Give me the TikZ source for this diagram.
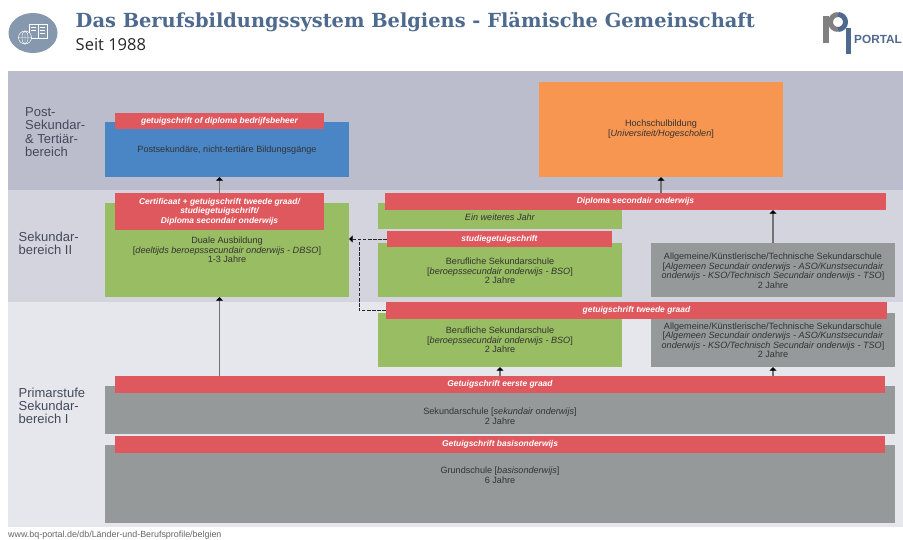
\documentclass[tikz,border=0pt]{standalone}
\usepackage{fontspec}
\setmainfont{Liberation Sans}
\newfontfamily\titlefont{DejaVu Serif}
\newfontfamily\subfont{Open Sans}
\usetikzlibrary{arrows.meta}
\definecolor{bandone}{HTML}{BBBDCD}
\definecolor{bandtwo}{HTML}{D3D4DE}
\definecolor{bandthree}{HTML}{E6E7ED}
\definecolor{boxred}{HTML}{DF585E}
\definecolor{boxgreen}{HTML}{99BD62}
\definecolor{boxgrey}{HTML}{959999}
\definecolor{boxblue}{HTML}{4A86C5}
\definecolor{boxorange}{HTML}{F79650}
\definecolor{titleblue}{HTML}{4F6A8F}
\definecolor{iconblue}{HTML}{8698AE}
\definecolor{labelgrey}{HTML}{44495A}
\tikzset{
    stage/.style={draw=none,inner sep=0pt,font=\fontsize{9.1}{9.5}\selectfont,text=black!80,align=center},
    award/.style={stage,text=white,font=\fontsize{8.45}{9.5}\selectfont\itshape\bfseries,fill=boxred},
    bandlabel/.style={inner sep=0pt,anchor=north west,align=left,text=labelgrey,font=\fontsize{13}{13.2}\selectfont},
    flow/.style={draw=black!55,line width=1.2pt,-{Triangle[width=7pt,length=3.5pt,color=black]}},
    shortcut/.style={draw=black!85,line width=0.9pt,dashed,dash pattern=on 3.5pt off 1.6pt},
}
% box from its corners in pixels: name, left, top, right, bottom, options
\newcommand{\pxbox}[6]{\node[#6,minimum width={(#4)*1pt-(#2)*1pt},minimum height={(#5)*1pt-(#3)*1pt}] (#1) at ({((#2)+(#4))/2},{((#3)+(#5))/2}) {};}
\begin{document}
\begin{tikzpicture}[x=1pt,y=-1pt]
    \useasboundingbox (0,0) rectangle (903,540);
    \fill[white] (0,0) rectangle (903,540);
    % Head
    \fill[iconblue] (33,33) ellipse (24.5 and 20);
    \draw[white,line width=0.5pt] (29,24) rectangle (38,38) (38,24) rectangle (47,38) (40,27) -- (45,27) (40,30) -- (45,30) (40,33) -- (45,33) (31,27) -- (36,27) (31,30) -- (36,30);
    \filldraw[draw=white,fill=iconblue,line width=0.5pt] (25,37.5) circle (6.5);
    \draw[white,line width=0.4pt] (18.5,37.5) -- (31.5,37.5) (25,31) -- (25,44) (25,37.5) ellipse (3 and 6.5);
    \node[inner sep=0pt,anchor=west,text=titleblue,font=\titlefont\bfseries\fontsize{19.4}{21}\selectfont] (headline) at (75.5,22.5) {Das Berufsbildungssystem Belgiens - Flämische Gemeinschaft};
    \node[inner sep=0pt,anchor=west,text=black!85,font=\subfont\fontsize{16.5}{18}\selectfont] (since) at (75.5,44.5) {Seit 1988};
    % Logo
    \fill[black!50] (823,16) rectangle (829,43);
    \draw[black!50,line width=5pt] (838,29.5) arc (90:270:7.5);
    \draw[titleblue,line width=5pt] (838,29.5) arc (90:-90:7.5);
    \fill[titleblue] (845.5,28) rectangle (851,54);
    \node[inner sep=0pt,anchor=west,text=titleblue,font=\bfseries\fontsize{11.8}{13}\selectfont] (portal) at (854,39.5) {PORTAL};
    % Bands
    \fill[bandone] (8,71) rectangle (903,190);
    \fill[bandtwo] (8,190) rectangle (903,302);
    \fill[bandthree] (8,302) rectangle (903,527);
    \node[bandlabel] (tertiary) at (25,107.5) {Post-\\Sekundar-\\\&\ Tertiär-\\bereich};
    \node[bandlabel] (upper) at (18.5,232) {Sekundar-\\bereich II};
    \node[bandlabel] (lower) at (18.5,387.5) {Primarstufe\\Sekundar-\\bereich I};
    % Boxes
    \pxbox{postsek}{105}{122.5}{349}{177}{stage,fill=boxblue}
    \pxbox{hochschule}{539}{82}{783}{177}{stage,fill=boxorange}
    \pxbox{duale}{105}{203}{349}{297}{stage,fill=boxgreen}
    \pxbox{jahr}{378}{203}{622}{229}{stage,fill=boxgreen}
    \pxbox{bsoa}{378}{243}{622}{297}{stage,fill=boxgreen}
    \pxbox{allga}{651}{243}{895}{297}{stage,fill=boxgrey}
    \pxbox{bsob}{378}{313}{622}{367}{stage,fill=boxgreen}
    \pxbox{allgb}{651}{313}{895}{367}{stage,fill=boxgrey}
    \pxbox{sekschule}{105}{386}{895}{434}{stage,fill=boxgrey}
    \pxbox{grundschule}{105}{445}{895}{523}{stage,fill=boxgrey}
    % Awards
    \pxbox{betrieb}{115}{113}{324}{129.5}{award}
    \pxbox{certif}{115}{193}{324}{230}{award}
    \pxbox{diploma}{385}{193}{886}{210}{award}
    \pxbox{studie}{387}{231}{612}{247}{award}
    \pxbox{tweede}{386}{302}{887}{319}{award}
    \pxbox{eerste}{115}{376}{885}{393}{award}
    \pxbox{basis}{115}{436}{885}{453}{award}
    % Labels
    \node[award,fill=none] at (betrieb) {getuigschrift of diploma bedrijfsbeheer};
    \node[award,fill=none] at (certif) {Certificaat + getuigschrift tweede graad/\\studiegetuigschrift/\\Diploma secondair onderwijs};
    \node[award,fill=none] at (diploma) {Diploma secondair onderwijs};
    \node[award,fill=none] at (studie) {studiegetuigschrift};
    \node[award,fill=none] at (tweede) {getuigschrift tweede graad};
    \node[award,fill=none] at (eerste) {Getuigschrift eerste graad};
    \node[award,fill=none] at (basis) {Getuigschrift basisonderwijs};
    \node[stage] at (227,150) {Postsekundäre, nicht-tertiäre Bildungsgänge};
    \node[stage] at (661,129) {Hochschulbildung\\{[}\textit{Universiteit/Hogescholen}{]}};
    \node[stage] at (227,250) {Duale Ausbildung\\{[}\textit{deeltijds beroepssecundair onderwijs - DBSO}{]}\\1-3 Jahre};
    \node[stage] at (500,217) {\textit{Ein weiteres Jahr}};
    \node[stage] at (500,271) {Berufliche Sekundarschule\\{[}\textit{beroepssecundair onderwijs - BSO}{]}\\2 Jahre};
    \node[stage] at (500,340) {Berufliche Sekundarschule\\{[}\textit{beroepssecundair onderwijs - BSO}{]}\\2 Jahre};
    \node[stage] at (773,270.5) {Allgemeine/Künstlerische/Technische Sekundarschule\\{[}\textit{Algemeen Secundair onderwijs - ASO/Kunstsecundair}\\\textit{onderwijs - KSO/Technisch Secundair onderwijs - TSO}{]}\\2 Jahre};
    \node[stage] at (773,340) {Allgemeine/Künstlerische/Technische Sekundarschule\\{[}\textit{Algemeen Secundair onderwijs - ASO/Kunstsecundair}\\\textit{onderwijs - KSO/Technisch Secundair onderwijs - TSO}{]}\\2 Jahre};
    \node[stage] at (500,416) {Sekundarschule {[}\textit{sekundair onderwijs}{]}\\2 Jahre};
    \node[stage] at (500,475) {Grundschule {[}\textit{basisonderwijs}{]}\\6 Jahre};
    % Arrows
    \coordinate (dualein) at (219.5,300);
    \coordinate (dashx) at (359,270);
    \draw[flow] (dualein |- eerste.north) -- (dualein |- duale.south);
    \draw[flow] (dualein |- certif.north) -- (dualein |- postsek.south);
    \draw[flow] (hochschule |- diploma.north) -- (hochschule.south);
    \draw[flow] (allga.north) -- (allga |- diploma.south);
    \draw[flow] (bsob |- eerste.north) -- (bsob.south);
    \draw[flow] (allgb |- eerste.north) -- (allgb.south);
    \draw[shortcut,-{Triangle[width=7pt,length=3.5pt,color=black]}] (studie.west) -- (duale.east |- studie.west);
    \draw[shortcut] (tweede.west) -- (dashx |- tweede.west) -- (dashx |- studie.west);
    % Foot
    \node[inner sep=0pt,anchor=base west,text=black!60,font=\fontsize{8.9}{10}\selectfont] (source) at (8,537.5) {www.bq-portal.de/db/Länder-und-Berufsprofile/belgien};
\end{tikzpicture}
\end{document}
